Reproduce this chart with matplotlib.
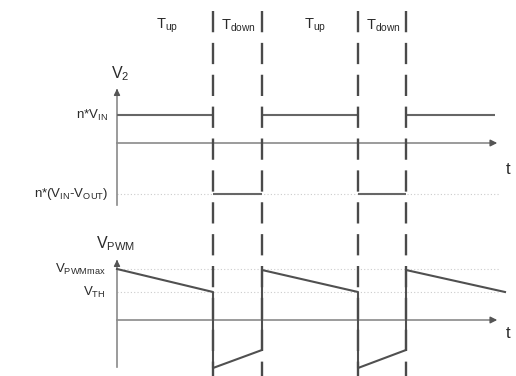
import matplotlib
matplotlib.use('agg')
import matplotlib.pyplot as plt

plt.rcParams['font.family'] = ['Liberation Sans', 'DejaVu Sans']
plt.rcParams['mathtext.fontset'] = 'custom'
plt.rcParams['mathtext.rm'] = 'Liberation Sans'
plt.rcParams['mathtext.it'] = 'Liberation Sans'

####  Diagram data (pixel-like units, y grows downward)  ######################
t0 = 117                          # time origin (vertical axes)
t_end = 500                       # arrow tip of time axes
edges = [213, 262, 358, 406]      # switching instants (dashed lines)
phase_labels = ['$\\mathrm{T_{up}}$', '$\\mathrm{T_{down}}$',
                '$\\mathrm{T_{up}}$', '$\\mathrm{T_{down}}$']
phase_x = [167, 238, 315, 383]

# V2 waveform: horizontal segments (start, end, level)
v2_zero = 143
v2_high = 115
v2_low = 194
v2_seg_start = [t0, 213, 262, 358, 406]
v2_seg_end = [213, 262, 358, 406, 495]
v2_seg_level = [v2_high, v2_low, v2_high, v2_low, v2_high]

# VPWM waveform
pwm_zero = 320
pwm_max = 269
pwm_th = 292
pwm_t = [t0, 213, 213, 262, 262, 358, 358, 406, 406, 505]
pwm_v = [269, 292, 368, 350, 270, 292, 368, 350, 270, 292]

dash_grey = '#4a4a4a'
wave_grey = '#666666'
axis_grey = '#8a8a8a'
txt = '#2a2a2a'

fig = plt.figure(figsize=(5.16, 3.76), dpi=100)
ax = fig.add_axes([0, 0, 1, 1])
ax.set_xlim(0, 516)
ax.set_ylim(376, 0)
ax.axis('off')

# faint dotted reference levels
for lvl in [v2_low, pwm_max, pwm_th]:
    ax.plot([t0, t_end], [lvl, lvl], color='#cccccc', lw=0.8, ls=(0, (1, 2)), zorder=1)

# dashed switching lines
for e in edges:
    ax.plot([e, e], [11, 376], color=dash_grey, lw=1.7, ls=(0, (9, 4.5)), zorder=4)

# axes with arrows
def draw_axes(zero, top, bottom):
    ax.plot([t0, t0], [bottom, top + 6], color=axis_grey, lw=1.2, zorder=2)
    ax.annotate('', xy=(t0, top), xytext=(t0, top + 8),
                arrowprops=dict(arrowstyle='-|>', color='#555555', lw=1.0,
                                mutation_scale=9))
    ax.plot([t0, t_end - 8], [zero, zero], color=axis_grey, lw=1.2, zorder=2)
    ax.annotate('', xy=(t_end, zero), xytext=(t_end - 10, zero),
                arrowprops=dict(arrowstyle='-|>', color='#555555', lw=1.0,
                                mutation_scale=10))

draw_axes(v2_zero, 86, 205)
draw_axes(pwm_zero, 257, 367)

ax.hlines(v2_seg_level, v2_seg_start, v2_seg_end, color=wave_grey, lw=1.5, zorder=3)
ax.plot(pwm_t, pwm_v, color='#505050', lw=1.5, zorder=3)

# labels
for x, s in zip(phase_x, phase_labels):
    ax.text(x, 26, s, ha='center', va='center', fontsize=10.5, color=txt)

ax.text(120, 74, '$\\mathrm{V_2}$', ha='center', va='center', fontsize=11.5, color=txt)
ax.text(108, 115, '$\\mathrm{n{*}V_{IN}}$', ha='right', va='center', fontsize=9.5, color=txt)
ax.text(108, 194, '$\\mathrm{n{*}(V_{IN}\\text{-}V_{OUT})}$', ha='right', va='center',
        fontsize=9.5, color=txt)
ax.text(116, 244, '$\\mathrm{V_{PWM}}$', ha='center', va='center', fontsize=11.5, color=txt)
ax.text(106, 269, '$\\mathrm{V_{PWMmax}}$', ha='right', va='center', fontsize=9.5, color=txt)
ax.text(106, 292, '$\\mathrm{V_{TH}}$', ha='right', va='center', fontsize=9.5, color=txt)
ax.text(508, 170, 't', ha='center', va='center', fontsize=12, color=txt)
ax.text(508, 334, 't', ha='center', va='center', fontsize=12, color=txt)

fig.savefig('out.png', dpi=100)
